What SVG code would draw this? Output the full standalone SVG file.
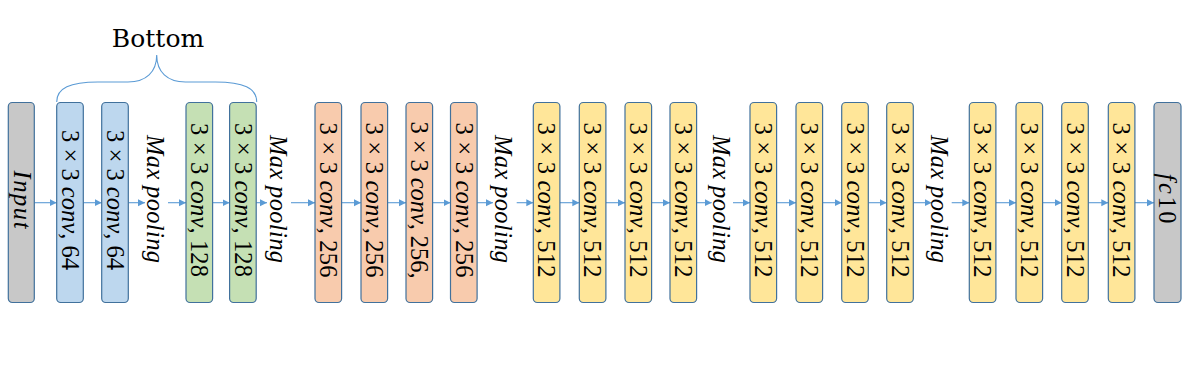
<svg xmlns="http://www.w3.org/2000/svg" width="1196" height="375" viewBox="0 0 1196 375">
<style>
.box{stroke:#41719C;stroke-width:1.2}
.gray{fill:#C8C8C8}.blue{fill:#BDD7EE}.green{fill:#C5E0B4}.orange{fill:#F8CBAD}.yellow{fill:#FFE699}
.t{font-family:"Liberation Serif","Times New Roman",serif;font-size:24.5px;fill:#000}
.i{font-style:italic}
.arr{stroke:#5B9BD5;stroke-width:1.1;fill:none;marker-end:url(#ah)}
.brace{stroke:#5B9BD5;stroke-width:1.1;fill:none}
</style>
<defs>
<marker id="ah" markerUnits="userSpaceOnUse" markerWidth="8" markerHeight="8" refX="7" refY="3.5" orient="auto">
<path d="M0,0 L7,3.5 L0,7 z" fill="#5B9BD5"/>
</marker>
</defs>
<rect width="1196" height="375" fill="#ffffff"/>

<g id="bottom-label">
<path class="brace" d="M56.7,102 C56.7,88 70,82 98,82 L128,82 C146,82 156.7,72 156.7,55 C156.7,72 167.4,82 185.4,82 L215.4,82 C243.4,82 256.7,88 256.7,102"/>
<text x="158" y="47" text-anchor="middle" style="font-family:'DejaVu Serif',serif;font-size:25px;fill:#000">Bottom</text>
</g>

<g id="connectors">
<line class="arr" x1="34.3" y1="202.7" x2="56.7" y2="202.7"/>
<line class="arr" x1="83.3" y1="202.7" x2="101.7" y2="202.7"/>
<line class="arr" x1="128.3" y1="202.7" x2="145" y2="202.7"/>
<line class="arr" x1="168" y1="202.7" x2="186" y2="202.7"/>
<line class="arr" x1="212.6" y1="202.7" x2="229.6" y2="202.7"/>
<line class="arr" x1="256.2" y1="202.7" x2="267" y2="202.7"/>
<line class="arr" x1="291" y1="202.7" x2="315" y2="202.7"/>
<line class="arr" x1="341.6" y1="202.7" x2="361" y2="202.7"/>
<line class="arr" x1="387.6" y1="202.7" x2="406" y2="202.7"/>
<line class="arr" x1="432.6" y1="202.7" x2="450.5" y2="202.7"/>
<line class="arr" x1="477.1" y1="202.7" x2="493" y2="202.7"/>
<line class="arr" x1="516.7" y1="202.7" x2="533.3" y2="202.7"/>
<line class="arr" x1="559.9" y1="202.7" x2="579.3" y2="202.7"/>
<line class="arr" x1="605.9" y1="202.7" x2="625" y2="202.7"/>
<line class="arr" x1="651.6" y1="202.7" x2="670" y2="202.7"/>
<line class="arr" x1="696.6" y1="202.7" x2="711.7" y2="202.7"/>
<line class="arr" x1="733" y1="202.7" x2="750" y2="202.7"/>
<line class="arr" x1="776.6" y1="202.7" x2="796" y2="202.7"/>
<line class="arr" x1="822.6" y1="202.7" x2="841.7" y2="202.7"/>
<line class="arr" x1="868.3" y1="202.7" x2="886.7" y2="202.7"/>
<line class="arr" x1="913.3" y1="202.7" x2="931.7" y2="202.7"/>
<line class="arr" x1="951.7" y1="202.7" x2="969.3" y2="202.7"/>
<line class="arr" x1="995.9" y1="202.7" x2="1016" y2="202.7"/>
<line class="arr" x1="1042.6" y1="202.7" x2="1061.7" y2="202.7"/>
<line class="arr" x1="1088.3" y1="202.7" x2="1108.3" y2="202.7"/>
<line class="arr" x1="1134.9" y1="202.7" x2="1154" y2="202.7"/>
</g>

<g id="input">
<rect class="box gray" x="8.3" y="102.5" width="26" height="200" rx="4"/>
<text class="t i" transform="translate(14,199.5) rotate(90)" text-anchor="middle" textLength="58" lengthAdjust="spacing">Input</text>
</g>

<g id="conv64-1">
<rect class="box blue" x="56.7" y="102.5" width="26.6" height="200" rx="4"/>
<text class="t" transform="translate(61.7,200) rotate(90)" text-anchor="middle" textLength="140" lengthAdjust="spacing">3 × 3 <tspan class="i">conv</tspan>, 64</text>
</g>
<g id="conv64-2">
<rect class="box blue" x="101.7" y="102.5" width="26.6" height="200" rx="4"/>
<text class="t" transform="translate(106.7,200) rotate(90)" text-anchor="middle" textLength="140" lengthAdjust="spacing">3 × 3 <tspan class="i">conv</tspan>, 64</text>
</g>
<g id="pool1">
<text class="t i" transform="translate(147,199) rotate(90)" text-anchor="middle" textLength="128" lengthAdjust="spacing">Max pooling</text>
</g>

<g id="conv128-1">
<rect class="box green" x="186" y="102.5" width="26.6" height="200" rx="4"/>
<text class="t" transform="translate(191,200) rotate(90)" text-anchor="middle" textLength="154" lengthAdjust="spacing">3 × 3 <tspan class="i">conv</tspan>, 128</text>
</g>
<g id="conv128-2">
<rect class="box green" x="229.6" y="102.5" width="26.6" height="200" rx="4"/>
<text class="t" transform="translate(234.6,200) rotate(90)" text-anchor="middle" textLength="154" lengthAdjust="spacing">3 × 3 <tspan class="i">conv</tspan>, 128</text>
</g>
<g id="pool2">
<text class="t i" transform="translate(270,199) rotate(90)" text-anchor="middle" textLength="128" lengthAdjust="spacing">Max pooling</text>
</g>

<g id="conv256-1">
<rect class="box orange" x="315" y="102.5" width="26.6" height="200" rx="4"/>
<text class="t" transform="translate(320,200) rotate(90)" text-anchor="middle" textLength="155" lengthAdjust="spacing">3 × 3 <tspan class="i">conv</tspan>, 256</text>
</g>
<g id="conv256-2">
<rect class="box orange" x="361" y="102.5" width="26.6" height="200" rx="4"/>
<text class="t" transform="translate(366,200) rotate(90)" text-anchor="middle" textLength="155" lengthAdjust="spacing">3 × 3 <tspan class="i">conv</tspan>, 256</text>
</g>
<g id="conv256-3">
<rect class="box orange" x="406" y="102.5" width="26.6" height="200" rx="4"/>
<text class="t" transform="translate(411,200) rotate(90)" text-anchor="middle" textLength="157" lengthAdjust="spacing">3 × 3 <tspan class="i">conv</tspan>, 256,</text>
</g>
<g id="conv256-4">
<rect class="box orange" x="450.5" y="102.5" width="26.6" height="200" rx="4"/>
<text class="t" transform="translate(455.5,200) rotate(90)" text-anchor="middle" textLength="155" lengthAdjust="spacing">3 × 3 <tspan class="i">conv</tspan>, 256</text>
</g>
<g id="pool3">
<text class="t i" transform="translate(495,199) rotate(90)" text-anchor="middle" textLength="128" lengthAdjust="spacing">Max pooling</text>
</g>

<g id="conv512-1">
<rect class="box yellow" x="533.3" y="102.5" width="26.6" height="200" rx="4"/>
<text class="t" transform="translate(538.3,200) rotate(90)" text-anchor="middle" textLength="155" lengthAdjust="spacing">3 × 3 <tspan class="i">conv</tspan>, 512</text>
</g>
<g id="conv512-2">
<rect class="box yellow" x="579.3" y="102.5" width="26.6" height="200" rx="4"/>
<text class="t" transform="translate(584.3,200) rotate(90)" text-anchor="middle" textLength="155" lengthAdjust="spacing">3 × 3 <tspan class="i">conv</tspan>, 512</text>
</g>
<g id="conv512-3">
<rect class="box yellow" x="625" y="102.5" width="26.6" height="200" rx="4"/>
<text class="t" transform="translate(630,200) rotate(90)" text-anchor="middle" textLength="155" lengthAdjust="spacing">3 × 3 <tspan class="i">conv</tspan>, 512</text>
</g>
<g id="conv512-4">
<rect class="box yellow" x="670" y="102.5" width="26.6" height="200" rx="4"/>
<text class="t" transform="translate(675,200) rotate(90)" text-anchor="middle" textLength="155" lengthAdjust="spacing">3 × 3 <tspan class="i">conv</tspan>, 512</text>
</g>
<g id="pool4">
<text class="t i" transform="translate(713,199) rotate(90)" text-anchor="middle" textLength="128" lengthAdjust="spacing">Max pooling</text>
</g>

<g id="conv512-5">
<rect class="box yellow" x="750" y="102.5" width="26.6" height="200" rx="4"/>
<text class="t" transform="translate(755,200) rotate(90)" text-anchor="middle" textLength="155" lengthAdjust="spacing">3 × 3 <tspan class="i">conv</tspan>, 512</text>
</g>
<g id="conv512-6">
<rect class="box yellow" x="796" y="102.5" width="26.6" height="200" rx="4"/>
<text class="t" transform="translate(801,200) rotate(90)" text-anchor="middle" textLength="155" lengthAdjust="spacing">3 × 3 <tspan class="i">conv</tspan>, 512</text>
</g>
<g id="conv512-7">
<rect class="box yellow" x="841.7" y="102.5" width="26.6" height="200" rx="4"/>
<text class="t" transform="translate(846.7,200) rotate(90)" text-anchor="middle" textLength="155" lengthAdjust="spacing">3 × 3 <tspan class="i">conv</tspan>, 512</text>
</g>
<g id="conv512-8">
<rect class="box yellow" x="886.7" y="102.5" width="26.6" height="200" rx="4"/>
<text class="t" transform="translate(891.7,200) rotate(90)" text-anchor="middle" textLength="155" lengthAdjust="spacing">3 × 3 <tspan class="i">conv</tspan>, 512</text>
</g>
<g id="pool5">
<text class="t i" transform="translate(931,199) rotate(90)" text-anchor="middle" textLength="128" lengthAdjust="spacing">Max pooling</text>
</g>

<g id="conv512-9">
<rect class="box yellow" x="969.3" y="102.5" width="26.6" height="200" rx="4"/>
<text class="t" transform="translate(974.3,200) rotate(90)" text-anchor="middle" textLength="155" lengthAdjust="spacing">3 × 3 <tspan class="i">conv</tspan>, 512</text>
</g>
<g id="conv512-10">
<rect class="box yellow" x="1016" y="102.5" width="26.6" height="200" rx="4"/>
<text class="t" transform="translate(1021,200) rotate(90)" text-anchor="middle" textLength="155" lengthAdjust="spacing">3 × 3 <tspan class="i">conv</tspan>, 512</text>
</g>
<g id="conv512-11">
<rect class="box yellow" x="1061.7" y="102.5" width="26.6" height="200" rx="4"/>
<text class="t" transform="translate(1066.7,200) rotate(90)" text-anchor="middle" textLength="155" lengthAdjust="spacing">3 × 3 <tspan class="i">conv</tspan>, 512</text>
</g>
<g id="conv512-12">
<rect class="box yellow" x="1108.3" y="102.5" width="26.6" height="200" rx="4"/>
<text class="t" transform="translate(1113.3,200) rotate(90)" text-anchor="middle" textLength="155" lengthAdjust="spacing">3 × 3 <tspan class="i">conv</tspan>, 512</text>
</g>

<g id="fc10">
<rect class="box gray" x="1154" y="102.5" width="27" height="200" rx="4"/>
<text class="t" transform="translate(1158.5,198.5) rotate(90)" text-anchor="middle" textLength="50" lengthAdjust="spacing"><tspan class="i">fc</tspan>10</text>
</g>
</svg>
